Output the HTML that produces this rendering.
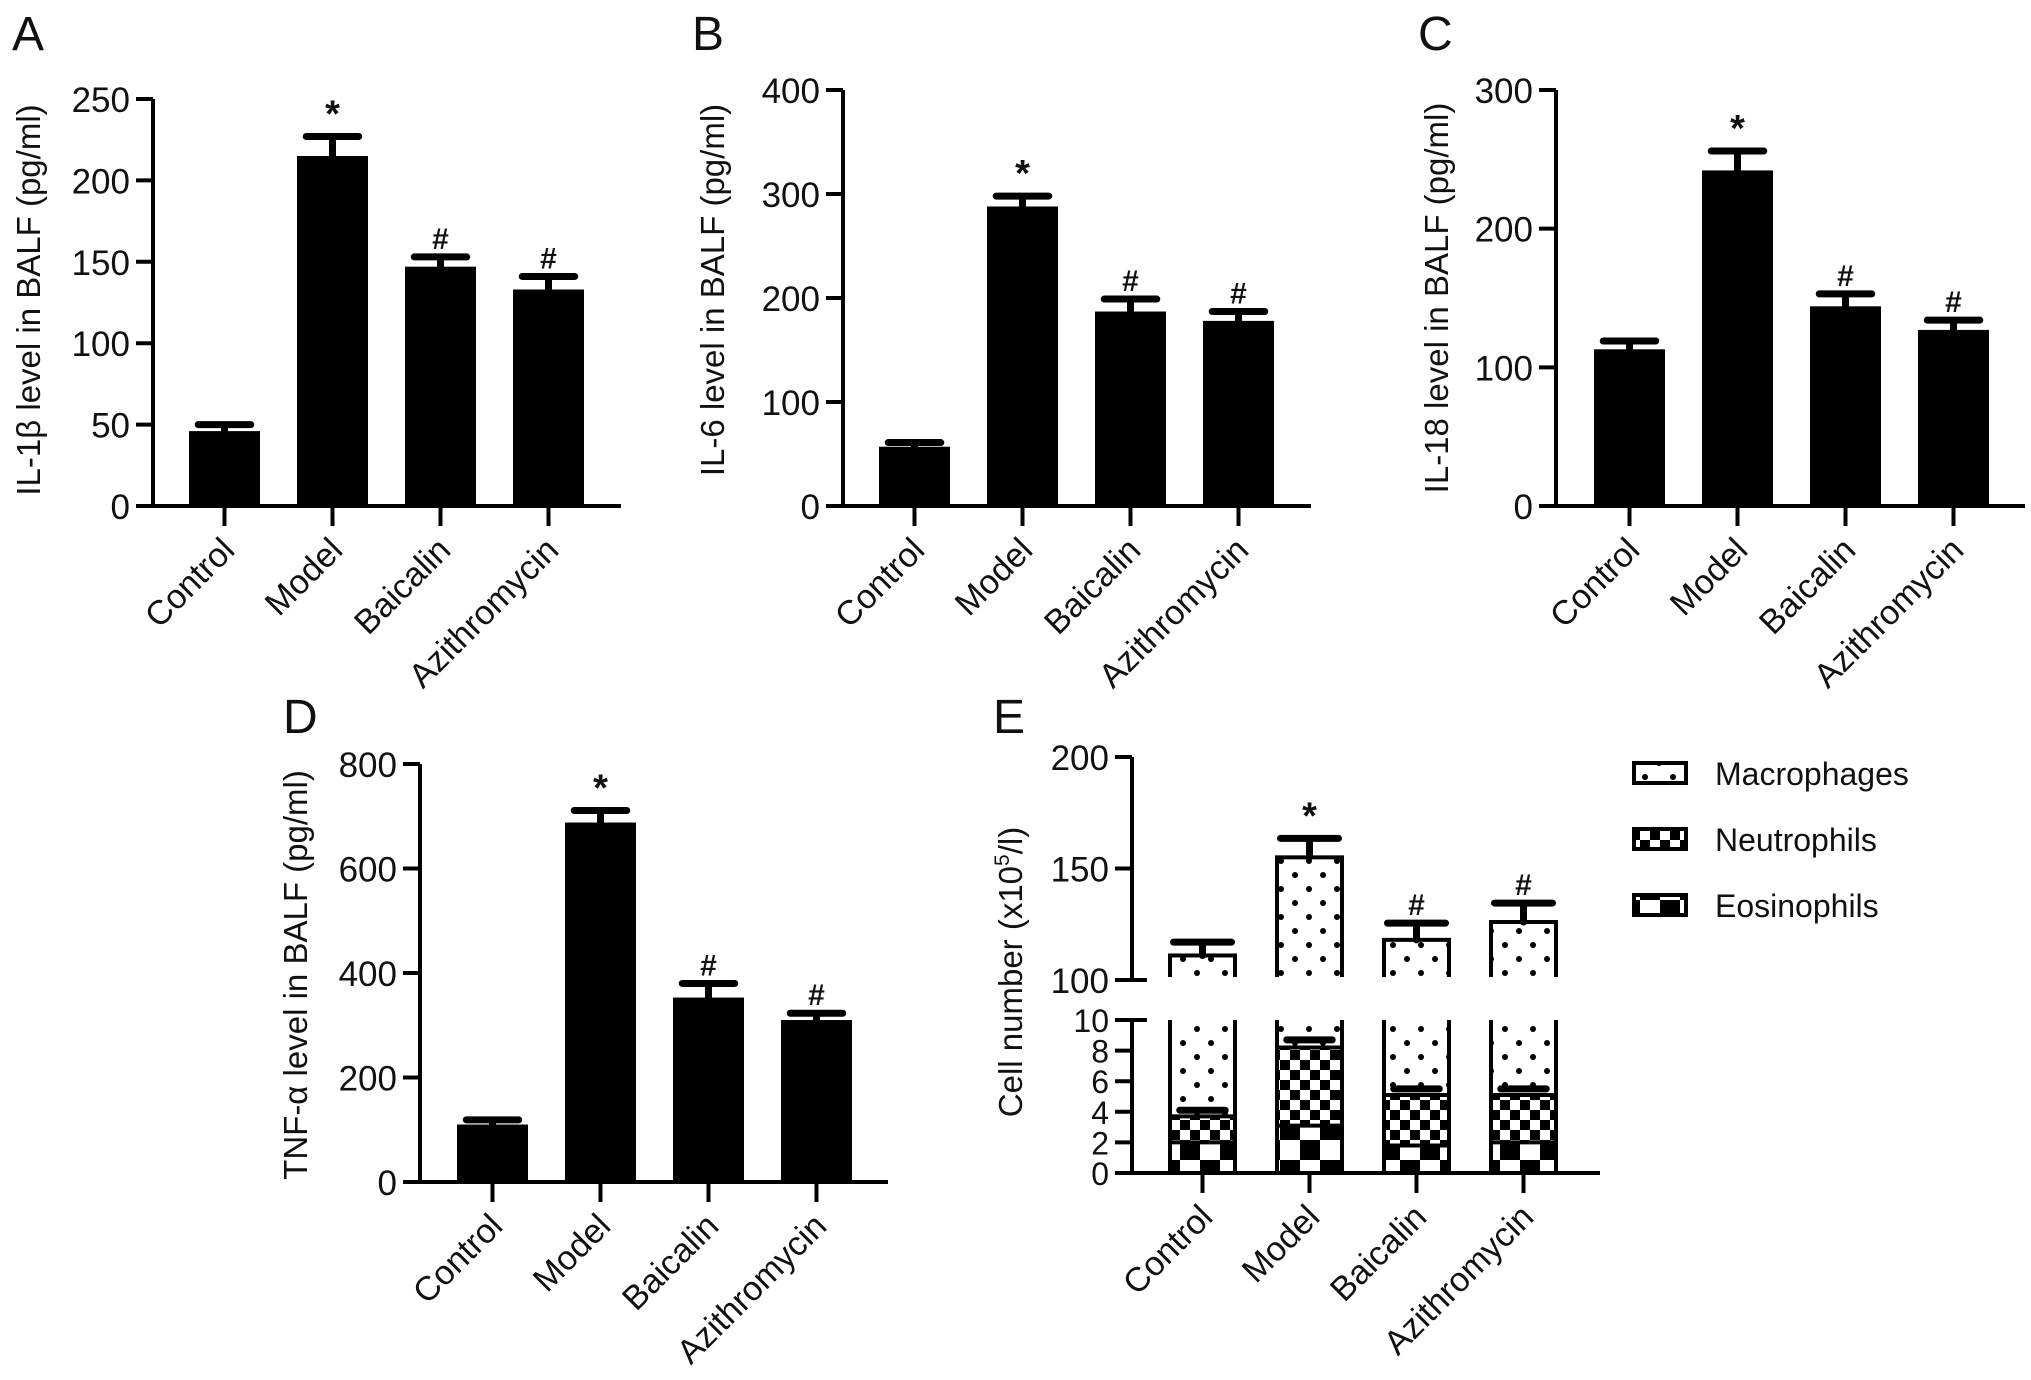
<!DOCTYPE html>
<html><head><meta charset="utf-8"><style>
html,body{margin:0;padding:0;background:#fff}
svg{display:block}
text{font-family:"Liberation Sans",Arial,sans-serif;fill:#111}
</style></head><body>
<svg id="fig" width="2031" height="1380" viewBox="0 0 2031 1380" xmlns="http://www.w3.org/2000/svg">
<defs>
<pattern id="pMac" patternUnits="userSpaceOnUse" width="38" height="38" x="0" y="0">
<rect width="38" height="38" fill="#fff"/>
<circle cx="9" cy="9" r="3" fill="#000"/><circle cx="28" cy="28" r="3" fill="#000"/>
<circle cx="28" cy="9" r="0" fill="#000"/>
</pattern>
<pattern id="pMacD" patternUnits="userSpaceOnUse" width="28" height="28" x="0" y="0">
<rect width="28" height="28" fill="#fff"/>
<circle cx="7" cy="7" r="3" fill="#000"/><circle cx="21" cy="21" r="3" fill="#000"/>
</pattern>
<pattern id="pNeu" patternUnits="userSpaceOnUse" width="20" height="20">
<rect width="20" height="20" fill="#fff"/>
<rect width="10" height="10" fill="#000"/><rect x="10" y="10" width="10" height="10" fill="#000"/>
</pattern>
<pattern id="pEos" patternUnits="userSpaceOnUse" width="40" height="40">
<rect width="40" height="40" fill="#fff"/>
<rect width="20" height="20" fill="#000"/><rect x="20" y="20" width="20" height="20" fill="#000"/>
</pattern>
</defs>
<g id="root"></g>
</svg>
<script>
const categories = ["Control","Model","Baicalin","Azithromycin"];
// Panel A IL-1beta
const aValues = [46, 215, 147, 133];
const aErrors = [4, 12, 6, 8];
const aTicks = [0, 50, 100, 150, 200, 250];
// Panel B IL-6
const bValues = [57, 288, 187, 178];
const bErrors = [4, 10, 12, 9];
const bTicks = [0, 100, 200, 300, 400];
// Panel C IL-18
const cValues = [113, 242, 144, 127];
const cErrors = [6, 14, 9, 7];
const cTicks = [0, 100, 200, 300];
// Panel D TNF-alpha
const dValues = [110, 688, 353, 310];
const dErrors = [9, 23, 27, 13];
const dTicks = [0, 200, 400, 600, 800];
// Panel E cell counts (stacked)
const eEosinophils = [2.0, 3.1, 1.8, 2.0];
const eNeutrophils = [1.7, 5.1, 3.3, 3.1];
const eNeutroErr = [0.4, 0.5, 0.4, 0.4];
const eMacrophageTotal = [111, 155, 118, 126];
const eMacroErr = [6, 8.5, 7.5, 8.5];
const eTicksLow = [0, 2, 4, 6, 8, 10];
const eTicksHigh = [100, 150, 200];
const marks = ["", "*", "#", "#"];

const NS = "http://www.w3.org/2000/svg";
const root = document.getElementById('root');
function mk(tag, attrs, parent, txt){
  const e = document.createElementNS(NS, tag);
  for (const k in attrs) e.setAttribute(k, attrs[k]);
  if (txt !== undefined) e.textContent = txt;
  (parent || root).appendChild(e);
  return e;
}
function panel(cfg){
  const g = mk('g', {});
  
  
  const max = cfg.ticks[cfg.ticks.length-1];
  const y = v => cfg.y0 - (v/max)*(cfg.y0-cfg.yTop);
  const cx = i => cfg.bar0 + cfg.bw/2 + i*cfg.step;
  const lt = mk('text', {x:cfg.letter[0], y:cfg.letter[1], 'font-size':48}, g, cfg.letterText);
  
  
  cfg.vals.forEach((v,i)=>{
    const x0 = cfg.bar0 + i*cfg.step;
    const b = mk('rect', {x:x0, y:y(v), width:cfg.bw, height:cfg.y0-y(v), fill:'#000'}, g);
    
    
    const top = y(v+cfg.err[i]);
    const eb = mk('path', {d:`M${cx(i)} ${y(v)} V${top} M${cx(i)-cfg.bw*0.37} ${top} H${cx(i)+cfg.bw*0.37}`, stroke:'#000', 'stroke-width':7, 'stroke-linecap':'round', fill:'none'}, g);
    
    
    if (marks[i]) {
      const m = mk('text', {x:cx(i), y:top-(marks[i]=='*'?10:8), 'font-size':marks[i]=='*'?38:30, 'font-weight':'bold', 'text-anchor':'middle'}, g, marks[i]);
      
      
    }
  });
  const ax = mk('path', {d:`M${cfg.ax} ${cfg.yTop} V${cfg.y0} M${cfg.ax-17} ${cfg.y0} H${cfg.xEnd}`, stroke:'#000', 'stroke-width':4, fill:'none'}, g);
  
  
  cfg.ticks.forEach(t=>{
    mk('line', {x1:cfg.ax-17, x2:cfg.ax, y1:y(t), y2:y(t), stroke:'#000', 'stroke-width':4}, g);
    const tl = mk('text', {x:cfg.ax-23, y:y(t)+13, 'font-size':35, 'text-anchor':'end'}, g, String(t));
    
    
  });
  categories.forEach((c,i)=>{
    mk('line', {x1:cx(i), x2:cx(i), y1:cfg.y0, y2:cfg.y0+20, stroke:'#000', 'stroke-width':4}, g);
    const xl = mk('text', {x:0, y:0, 'font-size':34, 'text-anchor':'end', transform:`translate(${cx(i)+12},${cfg.y0+46}) rotate(-45)`}, g, c);
    
    
  });
  const yt = mk('text', {x:0, y:0, 'font-size':33, 'text-anchor':'middle', transform:`translate(${cfg.title[0]},${cfg.title[1]}) rotate(-90)`}, g, cfg.titleText);
  
  
}
panel({name:'panel-a', letterText:'A', letter:[12,50], vals:aValues, err:aErrors, ticks:aTicks, y0:506, yTop:99, ax:153, xEnd:621, bar0:189, bw:71, step:108, title:[40,300], titleText:'IL-1β level in BALF (pg/ml)'});
panel({name:'panel-b', letterText:'B', letter:[692,50], vals:bValues, err:bErrors, ticks:bTicks, y0:506, yTop:90, ax:843, xEnd:1311, bar0:879, bw:71, step:108, title:[724,290], titleText:'IL-6 level in BALF (pg/ml)'});
panel({name:'panel-c', letterText:'C', letter:[1418,50], vals:cValues, err:cErrors, ticks:cTicks, y0:506, yTop:90, ax:1556, xEnd:2025, bar0:1594, bw:71, step:108, title:[1448,298], titleText:'IL-18 level in BALF (pg/ml)'});
panel({name:'panel-d', letterText:'D', letter:[283,733], vals:dValues, err:dErrors, ticks:dTicks, y0:1182, yTop:764, ax:420, xEnd:888, bar0:457, bw:71, step:108, title:[307,975], titleText:'TNF-α level in BALF (pg/ml)'});

// Panel E
(function(){
  const g = mk('g', {});
  
  
  const ax = 1132, y0 = 1173, y10 = 1020, yB = 980, yT = 757, xEnd = 1600, bar0 = 1168, bw = 69, step = 107;
  const yl = v => y0 - v/10*(y0-y10);
  const yh = v => yB - (v-100)/100*(yB-yT);
  const cx = i => bar0 + bw/2 + i*step;
  const lt = mk('text', {x:993, y:733, 'font-size':48}, g, 'E');
  
  
  categories.forEach((c,i)=>{
    const x0 = bar0 + i*step;
    const eos = eEosinophils[i], neu = eos + eNeutrophils[i];
    const r1 = mk('rect', {x:x0, y:yl(eos), width:bw, height:y0-yl(eos), fill:'url(#pEos)'}, g);
    
    
    const r2 = mk('rect', {x:x0, y:yl(neu), width:bw, height:yl(eos)-yl(neu), fill:'url(#pNeu)'}, g);
    
    
    const r3 = mk('rect', {x:x0, y:y10, width:bw, height:yl(neu)-y10, fill:'url(#pMacD)'}, g);
    
    
    mk('path', {d:`M${x0+2} ${y10} V${y0} M${x0+bw-2} ${y10} V${y0} M${x0} ${yl(eos)} H${x0+bw} M${x0} ${yl(neu)} H${x0+bw}`, stroke:'#000','stroke-width':4, fill:'none'}, g);
    const nt = yl(neu + eNeutroErr[i]);
    mk('path', {d:`M${cx(i)-bw*0.33} ${nt} H${cx(i)+bw*0.33}`, stroke:'#000','stroke-width':7,'stroke-linecap':'round'}, g);
    const mt = eMacrophageTotal[i];
    const r4 = mk('rect', {x:x0+2, y:yh(mt), width:bw-4, height:yB-yh(mt), fill:'url(#pMacD)', stroke:'#000', 'stroke-width':4}, g);
    
    
    mk('rect', {x:x0, y:yB-3, width:bw, height:8, fill:'#fff'}, g);
    const top = yh(mt + eMacroErr[i]);
    const eb = mk('path', {d:`M${cx(i)} ${yh(mt)} V${top} M${cx(i)-bw*0.42} ${top} H${cx(i)+bw*0.42}`, stroke:'#000','stroke-width':7,'stroke-linecap':'round', fill:'none'}, g);
    
    
    if (marks[i]) {
      const m = mk('text', {x:cx(i), y:top-(marks[i]=='*'?10:8), 'font-size':marks[i]=='*'?38:30, 'font-weight':'bold', 'text-anchor':'middle'}, g, marks[i]);
      
      
    }
    mk('line', {x1:cx(i), x2:cx(i), y1:y0, y2:y0+20, stroke:'#000','stroke-width':4}, g);
    const xl = mk('text', {x:0, y:0, 'font-size':34, 'text-anchor':'end', transform:`translate(${cx(i)+12},${y0+46}) rotate(-45)`}, g, c);
    
    
  });
  mk('path', {d:`M${ax} ${yT} V${yB} M${ax-17} ${yB} H${ax+15} M${ax-17} ${y10} H${ax+15} M${ax} ${y10} V${y0} M${ax-17} ${y0} H${xEnd}`, stroke:'#000','stroke-width':4, fill:'none'}, g);
  eTicksHigh.forEach(t=>{
    mk('line', {x1:ax-17, x2:ax, y1:yh(t), y2:yh(t), stroke:'#000','stroke-width':4}, g);
    const tl = mk('text', {x:ax-23, y:yh(t)+13, 'font-size':35, 'text-anchor':'end'}, g, String(t));
    
    
  });
  eTicksLow.forEach(t=>{
    mk('line', {x1:ax-17, x2:ax, y1:yl(t), y2:yl(t), stroke:'#000','stroke-width':4}, g);
    const tl = mk('text', {x:ax-23, y:yl(t)+12, 'font-size':32, 'text-anchor':'end'}, g, String(t));
    
    
  });
  const yt = mk('text', {x:0, y:0, 'font-size':33, 'text-anchor':'middle', transform:`translate(1022,972) rotate(-90)`}, g);
  
  
  yt.appendChild(document.createTextNode('Cell number (x10'));
  mk('tspan', {'font-size':21, dy:-13}, yt, '5');
  mk('tspan', {dy:13}, yt, '/l)');
  const legendNames = ['Macrophages','Neutrophils','Eosinophils'];
  const legendFills = ['url(#pMacD)','url(#pNeu)','url(#pEos)'];
  const legendY = [763, 829, 895];
  legendNames.forEach((n,i)=>{
    const lg = mk('g', {}, g);
    
    
    mk('rect', {x:1634, y:legendY[i], width:52, height:20, fill:legendFills[i], stroke:'#000','stroke-width':4}, lg);
    mk('text', {x:1715, y:legendY[i]+22, 'font-size':32}, lg, n);
  });
})();
</script>
</body></html>
